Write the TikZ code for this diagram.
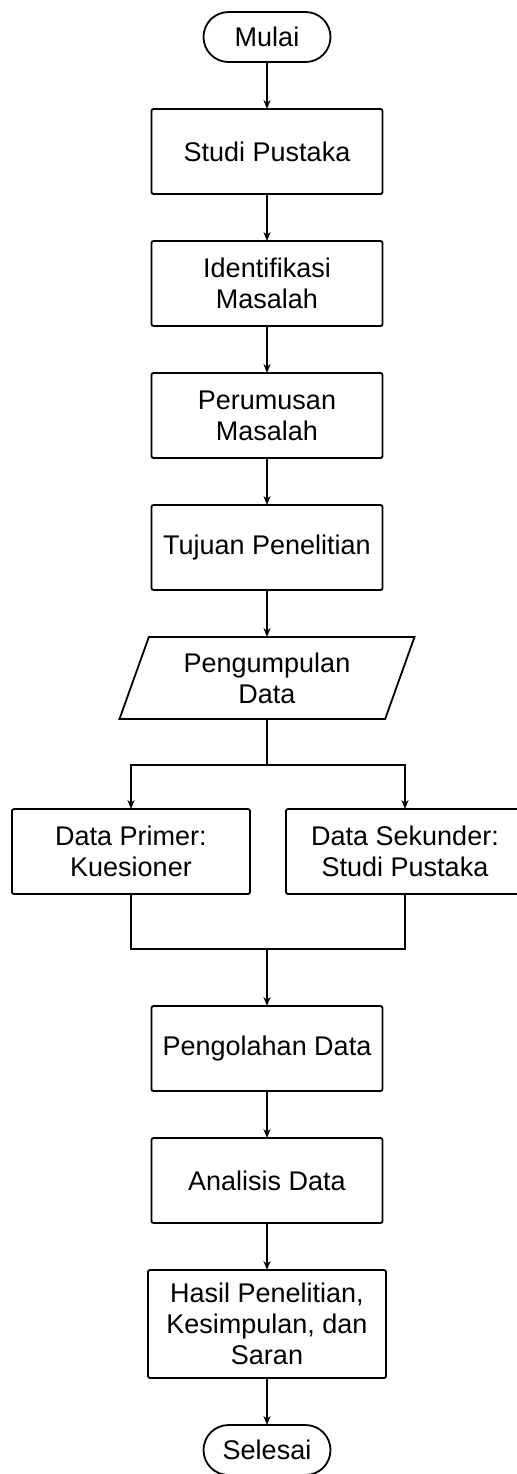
\documentclass[tikz,border=0pt]{standalone}
\usepackage{fontspec}
\setmainfont{Liberation Sans}
\usetikzlibrary{arrows.meta,positioning,shapes.geometric}

\begin{document}
\begin{tikzpicture}[
  x=0.5pt, y=-0.5pt,
  node distance=23.5pt,
  box/.style={draw, line width=0.9pt, rounded corners=1pt, align=center, inner sep=0pt, outer sep=0pt,
    minimum width=115.5pt, minimum height=42.5pt, font=\fontsize{13.5}{15.5}\selectfont},
  term/.style={box, rounded corners=12.5pt, minimum width=63.5pt, minimum height=25pt},
  inout/.style={box, trapezium, trapezium left angle=60, trapezium right angle=120,
    trapezium stretches body, rounded corners=0pt, minimum width=147.5pt, minimum height=41pt},
  arrow/.style={-{Stealth[length=4.5pt,width=3.5pt]}, line width=0.9pt},
  line/.style={line width=0.9pt}
]
\useasboundingbox (0,0) rectangle (516,1474);

\node[term] (mulai) at (267,37) {Mulai};
\node[box, below=of mulai] (pustaka) {Studi Pustaka};
\node[box, below=of pustaka] (identifikasi) {Identifikasi\\Masalah};
\node[box, below=of identifikasi] (perumusan) {Perumusan\\Masalah};
\node[box, below=of perumusan] (tujuan) {Tujuan Penelitian};
\node[inout, below=of tujuan] (kumpul) {Pengumpulan\\Data};
\node[box, minimum width=119pt, below=45pt of kumpul, xshift=-68pt] (primer) {Data Primer:\\Kuesioner};
\node[box, minimum width=119pt, below=45pt of kumpul, xshift=69pt] (sekunder) {Data Sekunder:\\Studi Pustaka};
\node[box, below=56pt of primer, xshift=68pt] (olah) {Pengolahan Data};
\node[box, below=of olah] (analisis) {Analisis Data};
\node[box, minimum width=119pt, minimum height=54pt, below=of analisis] (hasil) {Hasil Penelitian,\\Kesimpulan, dan\\Saran};
\node[term, below=of hasil] (selesai) {Selesai};

\coordinate (bagi) at (kumpul.south |- 0,765);
\coordinate (gabung) at (olah.north |- 0,949);

\draw[arrow] (mulai) -- (pustaka);
\draw[arrow] (pustaka) -- (identifikasi);
\draw[arrow] (identifikasi) -- (perumusan);
\draw[arrow] (perumusan) -- (tujuan);
\draw[arrow] (tujuan) -- (kumpul);
\draw[line] (kumpul) -- (bagi);
\draw[arrow] (bagi) -| (primer);
\draw[arrow] (bagi) -| (sekunder);
\draw[line] (primer) |- (gabung);
\draw[line] (sekunder) |- (gabung);
\draw[arrow] (gabung) -- (olah);
\draw[arrow] (olah) -- (analisis);
\draw[arrow] (analisis) -- (hasil);
\draw[arrow] (hasil) -- (selesai);
\end{tikzpicture}
\end{document}
